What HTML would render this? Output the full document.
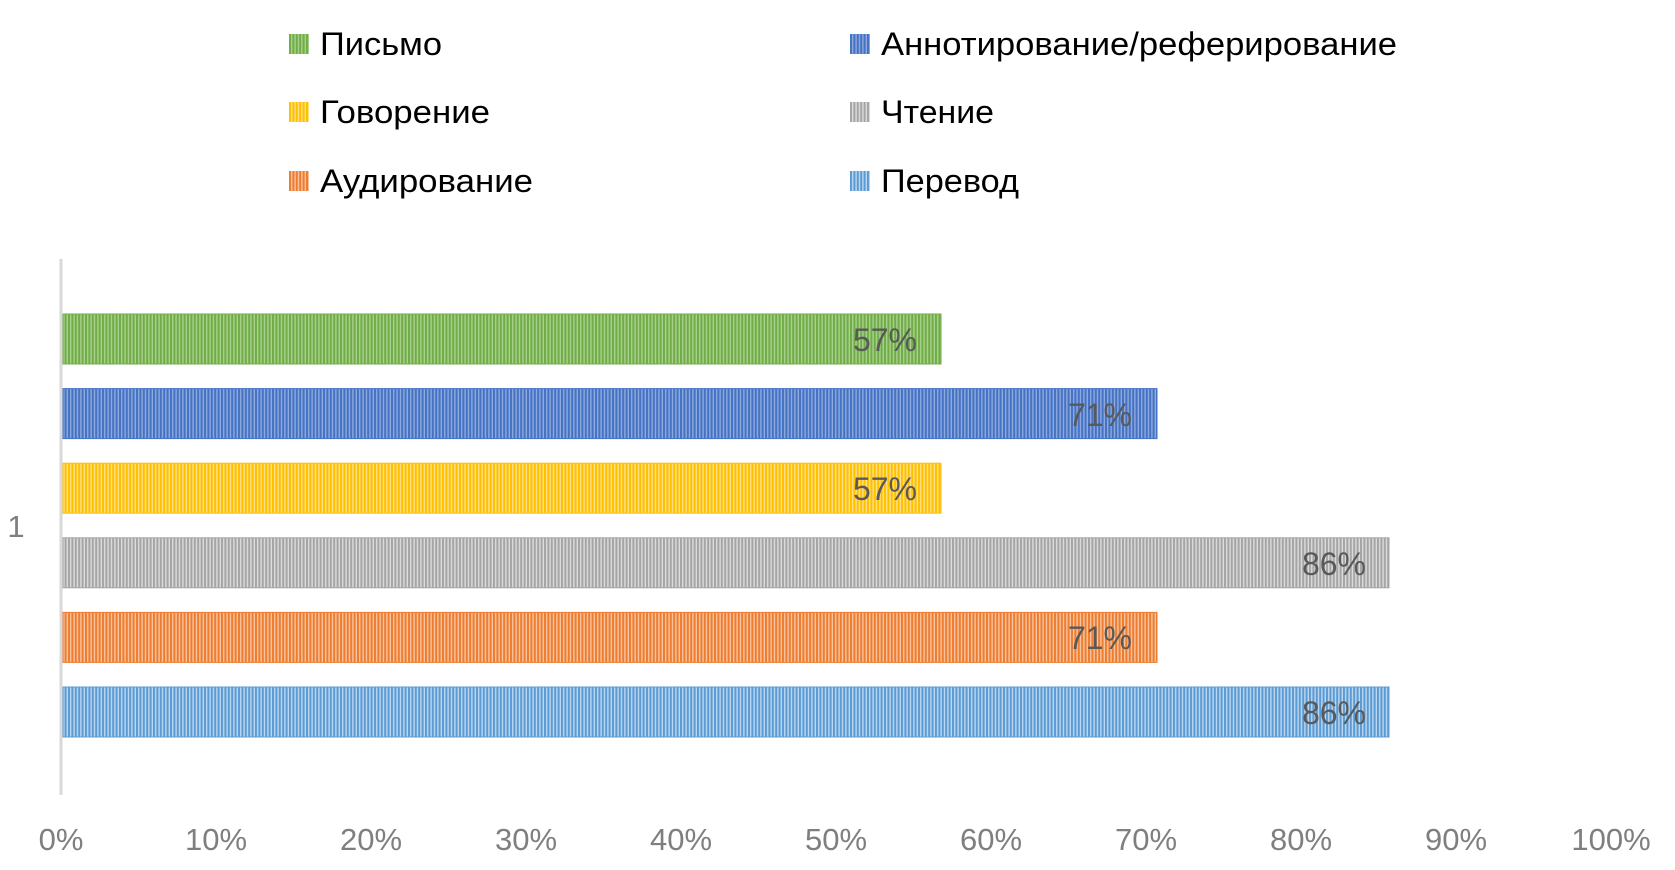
<!DOCTYPE html>
<html><head><meta charset="utf-8"><style>body{margin:0;background:#fff}svg{display:block}</style></head>
<body>
<svg width="1675" height="870" xmlns="http://www.w3.org/2000/svg" font-family="'Liberation Sans', sans-serif">
<defs>
<pattern id="g" width="3.4" height="10" patternUnits="userSpaceOnUse"><rect width="3.4" height="10" fill="#a9d18e"/><rect width="2" height="10" fill="#70ad47"/></pattern>
<pattern id="b" width="3.4" height="10" patternUnits="userSpaceOnUse"><rect width="3.4" height="10" fill="#8faadc"/><rect width="2" height="10" fill="#4472c4"/></pattern>
<pattern id="y" width="3.4" height="10" patternUnits="userSpaceOnUse"><rect width="3.4" height="10" fill="#ffe08a"/><rect width="2" height="10" fill="#ffc000"/></pattern>
<pattern id="s" width="3.4" height="10" patternUnits="userSpaceOnUse"><rect width="3.4" height="10" fill="#dcdcdc"/><rect width="2" height="10" fill="#a5a5a5"/></pattern>
<pattern id="o" width="3.4" height="10" patternUnits="userSpaceOnUse"><rect width="3.4" height="10" fill="#f8c4a0"/><rect width="2" height="10" fill="#ed7d31"/></pattern>
<pattern id="l" width="3.4" height="10" patternUnits="userSpaceOnUse"><rect width="3.4" height="10" fill="#bdd7ee"/><rect width="2" height="10" fill="#5b9bd5"/></pattern>
</defs>
<g font-size="32" fill="#000">
<rect x="289" y="34" width="20" height="20" fill="url(#g)"/><text x="320" y="55" textLength="122" lengthAdjust="spacingAndGlyphs">Письмо</text>
<rect x="289" y="102" width="20" height="20" fill="url(#y)"/><text x="320" y="123" textLength="170" lengthAdjust="spacingAndGlyphs">Говорение</text>
<rect x="289" y="171" width="20" height="20" fill="url(#o)"/><text x="320" y="192" textLength="213" lengthAdjust="spacingAndGlyphs">Аудирование</text>
<rect x="850" y="34" width="20" height="20" fill="url(#b)"/><text x="881" y="55" textLength="516" lengthAdjust="spacingAndGlyphs">Аннотирование/реферирование</text>
<rect x="850" y="102" width="20" height="20" fill="url(#s)"/><text x="881" y="123" textLength="113" lengthAdjust="spacingAndGlyphs">Чтение</text>
<rect x="850" y="171" width="20" height="20" fill="url(#l)"/><text x="881" y="192" textLength="138" lengthAdjust="spacingAndGlyphs">Перевод</text>
</g>
<rect x="59.5" y="259" width="3" height="536" fill="#d9d9d9"/>
<g>
<rect x="63" y="314" width="878" height="50" fill="url(#g)" stroke="#70ad47" stroke-width="1"/>
<rect x="63" y="388.6" width="1094" height="50" fill="url(#b)" stroke="#4472c4" stroke-width="1"/>
<rect x="63" y="463.2" width="878" height="50" fill="url(#y)" stroke="#ffc000" stroke-width="1"/>
<rect x="63" y="537.8" width="1326" height="50" fill="url(#s)" stroke="#a5a5a5" stroke-width="1"/>
<rect x="63" y="612.4" width="1094" height="50" fill="url(#o)" stroke="#ed7d31" stroke-width="1"/>
<rect x="63" y="687" width="1326" height="50" fill="url(#l)" stroke="#5b9bd5" stroke-width="1"/>
</g>
<g font-size="32" fill="#595959" text-anchor="end">
<text x="917" y="351">57%</text>
<text x="1132" y="426">71%</text>
<text x="917" y="500">57%</text>
<text x="1366" y="575">86%</text>
<text x="1132" y="649">71%</text>
<text x="1366" y="724">86%</text>
</g>
<text x="16" y="537" font-size="31" fill="#7f7f7f" text-anchor="middle">1</text>
<g font-size="31" fill="#7f7f7f" text-anchor="middle">
<text x="61" y="850">0%</text><text x="216" y="850">10%</text><text x="371" y="850">20%</text><text x="526" y="850">30%</text><text x="681" y="850">40%</text><text x="836" y="850">50%</text><text x="991" y="850">60%</text><text x="1146" y="850">70%</text><text x="1301" y="850">80%</text><text x="1456" y="850">90%</text><text x="1611" y="850">100%</text>
</g>
</svg>
</body></html>
